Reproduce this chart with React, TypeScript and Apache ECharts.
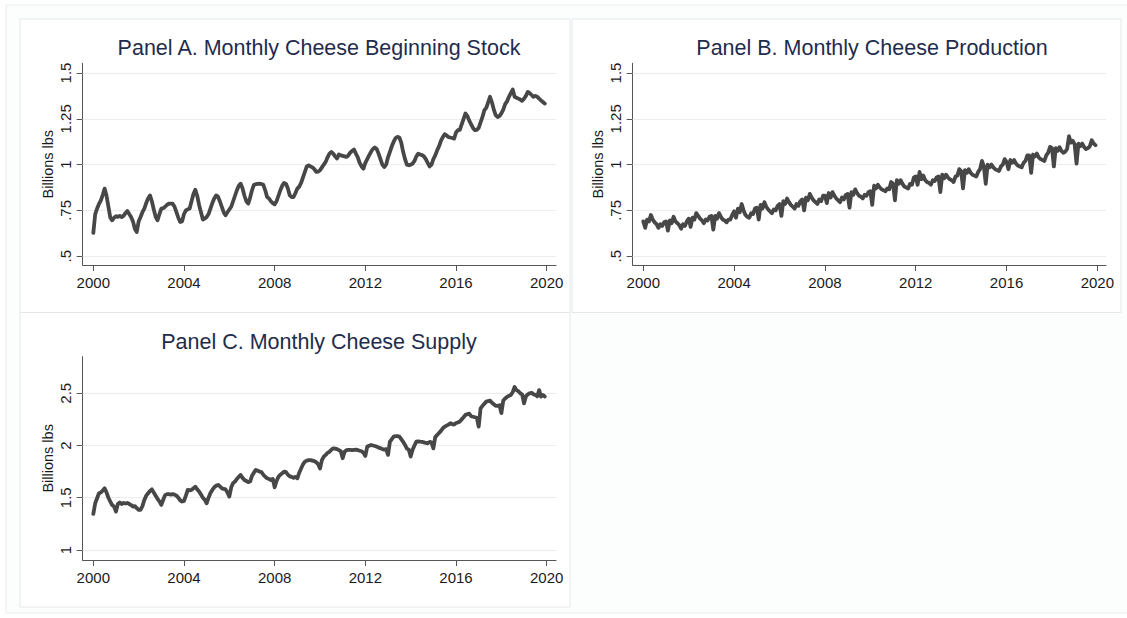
import React, { useEffect, useRef } from "react";
import * as echarts from "echarts";

// ---------- data ----------
const startYear = 2000;
const yearTicks = [2000, 2004, 2008, 2012, 2016, 2020];
const ticksAB = [0.5, 0.75, 1, 1.25, 1.5];
const ticksC = [1, 1.5, 2, 2.5];
const panelTitles = [
  "Panel A. Monthly Cheese Beginning Stock",
  "Panel B. Monthly Cheese Production",
  "Panel C. Monthly Cheese Supply",
];
const yAxisTitle = "Billions lbs";

// Monthly, Jan 2000 .. Dec 2019 (billions lbs)
const beginningStock = [
  0.627, 0.73, 0.76, 0.785, 0.805, 0.835, 0.869, 0.83, 0.77, 0.71, 0.696, 0.71,
  0.718, 0.715, 0.72, 0.714, 0.72, 0.735, 0.747, 0.73, 0.714, 0.69, 0.65, 0.632,
  0.69, 0.714, 0.74, 0.76, 0.79, 0.815, 0.832, 0.8, 0.755, 0.715, 0.696, 0.73,
  0.76, 0.762, 0.77, 0.78, 0.787, 0.787, 0.787, 0.77, 0.74, 0.71, 0.687, 0.69,
  0.73, 0.75, 0.756, 0.76, 0.8, 0.84, 0.863, 0.83, 0.78, 0.74, 0.7, 0.705,
  0.714, 0.73, 0.76, 0.79, 0.815, 0.832, 0.825, 0.8, 0.77, 0.74, 0.723, 0.74,
  0.755, 0.77, 0.8, 0.83, 0.86, 0.885, 0.896, 0.87, 0.83, 0.8, 0.787, 0.82,
  0.86, 0.89, 0.893, 0.895, 0.896, 0.894, 0.89, 0.86, 0.823, 0.815, 0.8, 0.79,
  0.783, 0.8, 0.83, 0.86, 0.885, 0.9, 0.895, 0.87, 0.832, 0.823, 0.823, 0.845,
  0.869, 0.88, 0.9, 0.93, 0.96, 0.99, 0.996, 0.99, 0.985, 0.975, 0.96, 0.962,
  0.969, 0.985, 1.0, 1.015, 1.04, 1.06, 1.069, 1.06, 1.045, 1.033, 1.055, 1.05,
  1.048, 1.045, 1.042, 1.05, 1.065, 1.075, 1.082, 1.06, 1.04, 1.01, 0.99, 0.978,
  1.01, 1.03, 1.05, 1.07, 1.085, 1.093, 1.085, 1.06, 1.03, 1.0, 0.987, 1.0,
  1.04, 1.07, 1.1, 1.125, 1.145, 1.151, 1.148, 1.12, 1.07, 1.03, 1.0, 0.996,
  1.0, 1.005, 1.02, 1.045, 1.06, 1.055, 1.052, 1.045, 1.03, 1.01, 0.99, 1.0,
  1.03, 1.05, 1.078, 1.1, 1.13, 1.15, 1.166, 1.16, 1.15, 1.148, 1.145, 1.142,
  1.175, 1.188, 1.19, 1.22, 1.25, 1.279, 1.265, 1.24, 1.22, 1.2, 1.188, 1.19,
  1.2, 1.23, 1.26, 1.297, 1.31, 1.34, 1.37, 1.34, 1.3, 1.27, 1.26, 1.265,
  1.28, 1.3, 1.33, 1.345, 1.37, 1.39, 1.41, 1.37, 1.365, 1.36, 1.355, 1.348,
  1.36, 1.375, 1.397, 1.39, 1.38, 1.37, 1.375, 1.37, 1.36, 1.35, 1.342, 1.333,
];

const production = [
  0.69, 0.655, 0.7, 0.69, 0.725, 0.7, 0.685, 0.675, 0.655, 0.675, 0.665, 0.685,
  0.69, 0.64, 0.695, 0.68, 0.715, 0.69, 0.68, 0.67, 0.65, 0.675, 0.665, 0.69,
  0.705, 0.66, 0.71, 0.7, 0.735, 0.72, 0.705, 0.695, 0.68, 0.7, 0.695, 0.715,
  0.72, 0.645, 0.72, 0.705, 0.735, 0.715, 0.7, 0.695, 0.685, 0.7, 0.7, 0.725,
  0.745, 0.71, 0.76, 0.74, 0.785, 0.75, 0.725, 0.715, 0.71, 0.735, 0.73, 0.76,
  0.765, 0.7, 0.78, 0.76, 0.795, 0.77, 0.755, 0.745, 0.735, 0.755, 0.75, 0.775,
  0.785, 0.72, 0.8, 0.785, 0.815, 0.795, 0.78, 0.77, 0.76, 0.785, 0.775, 0.8,
  0.81, 0.75, 0.82, 0.805, 0.84, 0.82, 0.805, 0.795, 0.785, 0.81, 0.8, 0.83,
  0.83, 0.79, 0.845, 0.82, 0.85, 0.83, 0.815, 0.805, 0.795, 0.82, 0.81, 0.835,
  0.84, 0.765, 0.85, 0.835, 0.865, 0.845, 0.83, 0.825, 0.815, 0.835, 0.83, 0.85,
  0.855, 0.78, 0.885, 0.87, 0.89, 0.875, 0.865, 0.86, 0.855, 0.87, 0.865, 0.905,
  0.895, 0.805, 0.915, 0.895, 0.915, 0.895, 0.88, 0.875, 0.87, 0.895, 0.89, 0.93,
  0.935, 0.89, 0.96, 0.92, 0.94, 0.915, 0.905, 0.9, 0.89, 0.915, 0.91, 0.93,
  0.935, 0.85, 0.945, 0.925, 0.945, 0.93, 0.92, 0.915, 0.905, 0.935, 0.94, 0.975,
  0.965, 0.87, 0.97, 0.955, 0.975, 0.955, 0.945, 0.94, 0.935, 0.96, 0.975, 1.02,
  0.99, 0.895, 1.0, 0.985, 1.0, 0.985, 0.975, 0.97, 0.965, 0.99, 1.0, 1.03,
  1.015, 0.975, 1.025, 1.01, 1.025, 1.005, 0.995, 0.99, 0.985, 1.01, 1.02, 1.05,
  1.05, 0.955, 1.055, 1.045, 1.06, 1.04, 1.03, 1.025, 1.02, 1.05, 1.065, 1.097,
  1.09, 0.99, 1.09, 1.075, 1.095, 1.075, 1.065, 1.07, 1.085, 1.155, 1.12, 1.13,
  1.11, 1.005, 1.115, 1.1, 1.115, 1.095, 1.085, 1.09, 1.1, 1.133, 1.115, 1.106,
];

const supply = [
  1.345, 1.447, 1.495, 1.543, 1.55, 1.57, 1.59, 1.55, 1.5, 1.463, 1.43, 1.415,
  1.367, 1.44, 1.455, 1.44, 1.45, 1.445, 1.45, 1.44, 1.43, 1.415, 1.42, 1.4,
  1.383, 1.385, 1.42, 1.479, 1.52, 1.543, 1.565, 1.58, 1.55, 1.52, 1.49, 1.465,
  1.431, 1.48, 1.525, 1.535, 1.535, 1.53, 1.535, 1.53, 1.52, 1.5, 1.475, 1.463,
  1.47, 1.52, 1.575, 1.57, 1.575, 1.59, 1.606, 1.58, 1.56, 1.53, 1.5, 1.48,
  1.447, 1.5, 1.545, 1.575, 1.6, 1.615, 1.623, 1.61, 1.59, 1.585, 1.58, 1.55,
  1.511, 1.6, 1.64, 1.655, 1.68, 1.7, 1.718, 1.69, 1.67, 1.66, 1.65, 1.655,
  1.71, 1.74, 1.766, 1.76, 1.75, 1.745, 1.72, 1.7, 1.686, 1.68, 1.67, 1.68,
  1.6, 1.66, 1.7, 1.72, 1.734, 1.75, 1.745, 1.72, 1.705, 1.7, 1.69, 1.7,
  1.686, 1.74, 1.78, 1.82, 1.846, 1.855, 1.86, 1.86, 1.855, 1.85, 1.84, 1.82,
  1.78, 1.86, 1.894, 1.91, 1.93, 1.94, 1.96, 1.973, 1.97, 1.965, 1.955, 1.945,
  1.878, 1.94, 1.955, 1.958, 1.958, 1.955, 1.958, 1.96, 1.955, 1.95, 1.945, 1.93,
  1.9, 1.99, 1.996, 2.005, 2.0, 1.995, 1.99, 1.98, 1.975, 1.965, 1.96, 1.965,
  1.91, 2.037, 2.06, 2.085, 2.09, 2.09, 2.085, 2.06, 2.035, 2.005, 1.97, 1.96,
  1.894, 1.96, 2.0, 2.037, 2.04, 2.037, 2.035, 2.03, 2.025, 2.02, 2.035, 2.03,
  1.973, 2.08, 2.1, 2.12, 2.14, 2.165, 2.18, 2.19, 2.2, 2.213, 2.205, 2.2,
  2.215, 2.22, 2.23, 2.25, 2.27, 2.293, 2.3, 2.305, 2.28, 2.275, 2.27, 2.265,
  2.181, 2.356, 2.38, 2.4, 2.42, 2.425, 2.43, 2.41, 2.395, 2.38, 2.38, 2.385,
  2.31, 2.43, 2.45, 2.465, 2.475, 2.484, 2.51, 2.56, 2.53, 2.52, 2.5, 2.49,
  2.404, 2.47, 2.49, 2.5, 2.505, 2.49, 2.485, 2.47, 2.53, 2.468, 2.484, 2.47,
];

// ---------- helpers ----------
const FONT = "'Liberation Sans', Arial, Helvetica, sans-serif";
const toPoints = (vals: number[]) => vals.map((v, i) => [startYear + i / 12, v]);
const fmtY = (v: number) => String(v).replace(/^0\./, ".");

const panels = [
  { grid: { left: 82.7, top: 63.3, width: 473.3, height: 201.7 }, xMin: 1999.532, xMax: 2020.41, yMin: 0.452, yMax: 1.553, ticks: ticksAB, data: beginningStock, title: panelTitles[0], titleX: 319, titleY: 48.3 },
  { grid: { left: 632.7, top: 63.3, width: 473.3, height: 201.7 }, xMin: 1999.533, xMax: 2020.38, yMin: 0.452, yMax: 1.553, ticks: ticksAB, data: production, title: panelTitles[1], titleX: 872, titleY: 48.3 },
  { grid: { left: 82.7, top: 356.7, width: 473.3, height: 203.3 }, xMin: 1999.532, xMax: 2020.41, yMin: 0.904, yMax: 2.85, ticks: ticksC, data: supply, title: panelTitles[2], titleX: 319, titleY: 342.3 },
];

export default function App() {
  const ref = useRef<HTMLDivElement>(null);
  useEffect(() => {
    if (!ref.current) return;
    const chart = echarts.init(ref.current, undefined, { renderer: "svg" });
    const axisLineStyle = { color: "#555", width: 1 };
    const option: any = {
      animation: false,
      backgroundColor: "#ffffff",
      graphic: [
        { type: "rect", shape: { x: 6, y: 5, width: 1125, height: 608 }, style: { fill: "#fcfdfd", stroke: "#e8ecef", lineWidth: 1 }, z: -10 },
        { type: "rect", shape: { x: 20, y: 19, width: 550, height: 293.5 }, style: { fill: "#ffffff", stroke: "#e4e8eb", lineWidth: 1 }, z: -9 },
        { type: "rect", shape: { x: 572, y: 19, width: 549, height: 293.5 }, style: { fill: "#ffffff", stroke: "#e4e8eb", lineWidth: 1 }, z: -9 },
        { type: "rect", shape: { x: 20, y: 312.5, width: 550, height: 294.5 }, style: { fill: "#ffffff", stroke: "#e4e8eb", lineWidth: 1 }, z: -9 },
        ...panels.map((p) => ({
          type: "text",
          x: p.titleX,
          y: p.titleY,
          style: { text: p.title, fill: "#1f2c4c", font: `21.5px ${FONT}`, align: "center", verticalAlign: "middle" },
          z: 5,
        })),
      ],
      grid: panels.map((p) => ({ ...p.grid, containLabel: false })),
      xAxis: panels.map((p, i) => ({
        type: "value",
        gridIndex: i,
        min: p.xMin,
        max: p.xMax,
        axisLine: { show: true, lineStyle: axisLineStyle },
        axisTick: { show: true, length: 6, lineStyle: axisLineStyle, customValues: yearTicks },
        axisLabel: { customValues: yearTicks, color: "#1a1a1a", fontSize: 15, fontFamily: FONT, margin: 10, formatter: (v: number) => String(Math.round(v)) },
        splitLine: { show: false },
      })),
      yAxis: panels.map((p, i) => ({
        type: "value",
        gridIndex: i,
        min: p.yMin,
        max: p.yMax,
        name: yAxisTitle,
        nameLocation: "middle",
        nameRotate: 90,
        nameGap: 27,
        nameTextStyle: { color: "#1a1a1a", fontSize: 14.5, fontFamily: FONT },
        axisLine: { show: true, lineStyle: axisLineStyle },
        axisTick: { show: true, length: 6, lineStyle: axisLineStyle, customValues: p.ticks },
        axisLabel: { customValues: p.ticks, rotate: 90, color: "#1a1a1a", fontSize: 15, fontFamily: FONT, margin: 10, formatter: fmtY },
        splitLine: { show: false },
      })),
      series: panels.map((p, i) => ({
        type: "line",
        xAxisIndex: i,
        yAxisIndex: i,
        data: toPoints(p.data),
        showSymbol: false,
        symbol: "none",
        clip: false,
        z: 10,
        lineStyle: { color: "#474747", width: 3.8, join: "round", cap: "round" },
        markLine: {
          silent: true,
          symbol: ["none", "none"],
          label: { show: false },
          lineStyle: { color: "#e9edf0", width: 1, type: "solid" },
          data: p.ticks.map((t) => ({ yAxis: t })),
        },
      })),
    };
    chart.setOption(option);
    return () => chart.dispose();
  }, []);
  return (
    <div
      ref={ref}
      style={{ position: "absolute", left: 0, top: 0, width: 1127, height: 618, background: "#fff" }}
    />
  );
}
